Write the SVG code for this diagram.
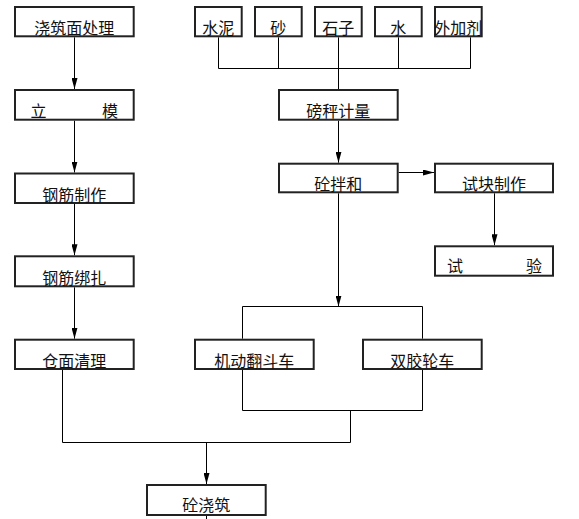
<svg xmlns="http://www.w3.org/2000/svg" width="579" height="519" viewBox="0 0 579 519">
<style>
.box{fill:#fff;stroke:#222;stroke-width:2}
.lbl{font-family:"Noto Sans CJK SC","Noto Sans",sans-serif;font-size:16px;fill:#111;text-anchor:middle}
.lft{font-family:"Noto Sans CJK SC","Noto Sans",sans-serif;font-size:16px;fill:#111}
.ln{fill:none;stroke:#000;stroke-width:1}
.arr{marker-end:url(#ah)}
</style>
<defs>
<marker id="ah" markerUnits="userSpaceOnUse" markerWidth="11" markerHeight="6" refX="11" refY="3" orient="auto">
<path d="M0,0 L11,3 L0,6 z" fill="#000"/>
</marker>
</defs>
<rect width="579" height="519" fill="#fff"/>
<g id="connectors">
<path class="ln arr" d="M74.5,37.3 V89"/>
<path class="ln arr" d="M74.5,120.7 V172.5"/>
<path class="ln arr" d="M74.5,204 V255.3"/>
<path class="ln arr" d="M74.5,287.3 V338.7"/>
<path class="ln" d="M218.5,37.3 V68.5 M278.5,37.3 V68.5 M338.5,37.3 V89 M398.5,37.3 V68.5 M470.5,37.3 V68.5 M218.5,68.5 H470.5"/>
<path class="ln arr" d="M338.5,120.7 V162.7"/>
<path class="ln arr" d="M398.7,172.5 H434"/>
<path class="ln arr" d="M494.5,193.3 V245.3"/>
<path class="ln arr" d="M338.5,193.3 V306.5"/>
<path class="ln" d="M242.5,338.7 V306.5 H422.5 V338.7"/>
<path class="ln" d="M242.5,370 V410.5 H422.5 V370 M350.5,410.5 V442.5"/>
<path class="ln" d="M62.5,370 V442.5 H350.5"/>
<path class="ln arr" d="M206.5,442.5 V484"/>
<path class="ln" d="M206.5,516 V519"/>
</g>
<g id="n1"><rect class="box" x="15" y="7" width="118.7" height="29.3"/><text class="lbl" x="74.3" y="34">浇筑面处理</text></g>
<g id="n2"><rect class="box" x="15" y="90" width="118.7" height="29.7"/><text class="lft" y="117"><tspan x="30.5">立</tspan><tspan x="102">模</tspan></text></g>
<g id="n3"><rect class="box" x="15" y="173.5" width="118.7" height="29.5"/><text class="lbl" x="74.3" y="201">钢筋制作</text></g>
<g id="n4"><rect class="box" x="15" y="256.3" width="118.7" height="30"/><text class="lbl" x="74.3" y="284.3">钢筋绑扎</text></g>
<g id="n5"><rect class="box" x="15" y="339.7" width="118.7" height="29.3"/><text class="lbl" x="74.3" y="367">仓面清理</text></g>
<g id="m1"><rect class="box" x="195" y="7" width="46.7" height="29.3"/><text class="lbl" x="218.3" y="34">水泥</text></g>
<g id="m2"><rect class="box" x="255" y="7" width="46.7" height="29.3"/><text class="lbl" x="278.3" y="34">砂</text></g>
<g id="m3"><rect class="box" x="315" y="7" width="46.7" height="29.3"/><text class="lbl" x="338.3" y="34">石子</text></g>
<g id="m4"><rect class="box" x="375" y="7" width="46.7" height="29.3"/><text class="lbl" x="398.3" y="34">水</text></g>
<g id="m5"><rect class="box" x="435" y="7" width="46.7" height="29.3"/><text class="lbl" x="458.3" y="34">外加剂</text></g>
<g id="weigh"><rect class="box" x="279" y="90" width="118.7" height="29.7"/><text class="lbl" x="338.3" y="117">磅秤计量</text></g>
<g id="mix"><rect class="box" x="279" y="163.7" width="118.7" height="28.6"/><text class="lbl" x="338.3" y="190">砼拌和</text></g>
<g id="sample"><rect class="box" x="435" y="163.7" width="118" height="28.6"/><text class="lbl" x="494" y="190">试块制作</text></g>
<g id="test"><rect class="box" x="435" y="246.3" width="118" height="29.4"/><text class="lft" y="271.5"><tspan x="447">试</tspan><tspan x="526">验</tspan></text></g>
<g id="truck"><rect class="box" x="195" y="339.7" width="118.7" height="29.3"/><text class="lbl" x="254.3" y="367">机动翻斗车</text></g>
<g id="cart"><rect class="box" x="363" y="339.7" width="118.7" height="29.3"/><text class="lbl" x="422.3" y="367">双胶轮车</text></g>
<g id="pour"><rect class="box" x="147" y="485" width="118.7" height="30"/><text class="lbl" x="206.3" y="511">砼浇筑</text></g>
</svg>
